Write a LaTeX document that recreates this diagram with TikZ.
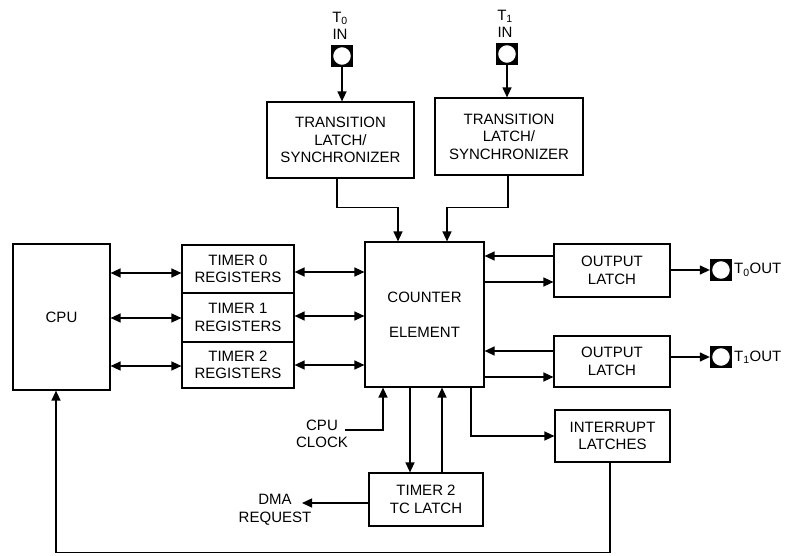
\documentclass[tikz,border=0pt]{standalone}
\usepackage{fontspec}
\setmainfont{Liberation Sans}
\usetikzlibrary{arrows.meta,calc}

\tikzset{
  blk/.style={draw, line width=1.2pt, inner sep=0pt, align=center,
    font=\fontsize{15}{17.5}\selectfont},
  lbl/.style={inner sep=0pt, align=center, font=\fontsize{15}{17.5}\selectfont},
  pad/.style={draw, line width=1.3pt, fill=black, minimum size=20pt, inner sep=0pt,
    path picture={\draw[fill=white, line width=1.1pt]
      (path picture bounding box.center) circle (9.4pt);}},
  wire/.style={line width=1.3pt, -{Triangle[length=10pt,width=9pt]}},
  bus/.style={line width=1.3pt, {Triangle[length=10pt,width=9pt]}-{Triangle[length=10pt,width=9pt]}}
}

\begin{document}
\begin{tikzpicture}[x=1pt, y=-1pt]
\useasboundingbox (0,0) rectangle (785,556);

% main blocks
\node[blk, minimum width=97pt, minimum height=146pt] (cpu) at (61.5,317) {CPU};
\node[blk, minimum width=112pt, minimum height=48pt] (reg0) at (238,269) {TIMER 0\\REGISTERS};
\node[blk, minimum width=112pt, minimum height=49pt] (reg1) at (238,317.5) {TIMER 1\\REGISTERS};
\node[blk, minimum width=112pt, minimum height=46pt] (reg2) at (238,365) {TIMER 2\\REGISTERS};
\node[blk, minimum width=119pt, minimum height=145pt] (cnt) at (424.5,314.5) {COUNTER\\[17.5pt]ELEMENT};
\node[blk, minimum width=116pt, minimum height=53pt] (out0) at (612,270.5) {OUTPUT\\LATCH};
\node[blk, minimum width=116pt, minimum height=51pt] (out1) at (612,361.5) {OUTPUT\\LATCH};
\node[blk, minimum width=115pt, minimum height=52pt] (intr) at (612.5,436) {INTERRUPT\\LATCHES};
\node[blk, minimum width=114pt, minimum height=53pt] (tc) at (426,499.5) {TIMER 2\\TC LATCH};
\node[blk, minimum width=147pt, minimum height=76pt] (tl0) at (340.5,140) {TRANSITION\\LATCH/\\SYNCHRONIZER};
\node[blk, minimum width=148pt, minimum height=77pt] (tl1) at (509,136.5) {TRANSITION\\LATCH/\\SYNCHRONIZER};

% pins
\node[pad] (p0in) at (342,56) {};
\node[pad] (p1in) at (507,54) {};
\node[pad, minimum size=21pt] (p0out) at (721,270) {};
\node[pad, minimum size=21pt] (p1out) at (721,357) {};

% pin labels
\node[lbl] (t0in) at (340,26) {T\textsubscript{0}\\IN};
\node[lbl] (t1in) at (505,24) {T\textsubscript{1}\\IN};
\node[lbl, anchor=west] (t0out) at (734,270) {T\textsubscript{0}OUT};
\node[lbl, anchor=west] (t1out) at (734,357) {T\textsubscript{1}OUT};
\node[lbl] (clk) at (322,434) {CPU\\CLOCK};
\node[lbl] (dma) at (275,510) {DMA\\REQUEST};

\coordinate (clkin) at (345,430);
\coordinate (dmaend) at (302,503);
\coordinate (tcdown) at (410,0);
\coordinate (tcup) at (442,0);

% inputs to transition latches
\draw[wire] (p0in.south) -- (p0in.south |- tl0.north);
\draw[wire] (p1in.south) -- (p1in.south |- tl1.north);

% transition latches to counter element
\draw[wire] ([xshift=-3.5pt]tl0.south) -- ++(0,29) -| ([xshift=-26.5pt]cnt.north);
\draw[wire] ([xshift=-1pt]tl1.south) -- ++(0,32) -| ([xshift=22.5pt]cnt.north);

% CPU <-> timer registers
\draw[bus] (cpu.east |- 0,273) -- (reg0.west |- 0,273);
\draw[bus] (cpu.east |- 0,318) -- (reg1.west |- 0,318);
\draw[bus] (cpu.east |- 0,366) -- (reg2.west |- 0,366);

% timer registers <-> counter element
\draw[bus] (reg0.east |- 0,272) -- (cnt.west |- 0,272);
\draw[bus] (reg1.east |- 0,316) -- (cnt.west |- 0,316);
\draw[bus] (reg2.east |- 0,365) -- (cnt.west |- 0,365);

% counter element <-> output latches
\draw[wire] (out0.west |- 0,256) -- (cnt.east |- 0,256);
\draw[wire] (cnt.east |- 0,282) -- (out0.west |- 0,282);
\draw[wire] (out1.west |- 0,351) -- (cnt.east |- 0,351);
\draw[wire] (cnt.east |- 0,377) -- (out1.west |- 0,377);

% output latches to pins
\draw[wire] (out0.east |- p0out) -- (p0out.west);
\draw[wire] (out1.east |- p1out) -- (p1out.west);

% CPU clock
\draw[wire] (clkin) -| ([xshift=-41.5pt]cnt.south);

% counter element <-> timer 2 TC latch
\draw[wire] (tcdown |- cnt.south) -- (tcdown |- tc.north);
\draw[wire] (tcup |- tc.north) -- (tcup |- cnt.south);

% DMA request
\draw[wire] (tc.west |- dmaend) -- (dmaend);

% counter element to interrupt latches
\draw[wire] ([xshift=46.5pt]cnt.south) |- (intr.west);

% interrupt latches back to CPU
\draw[wire] ([xshift=-2.5pt]intr.south) -- ++(0,90) -| ([xshift=-5.5pt]cpu.south);
\end{tikzpicture}
\end{document}
